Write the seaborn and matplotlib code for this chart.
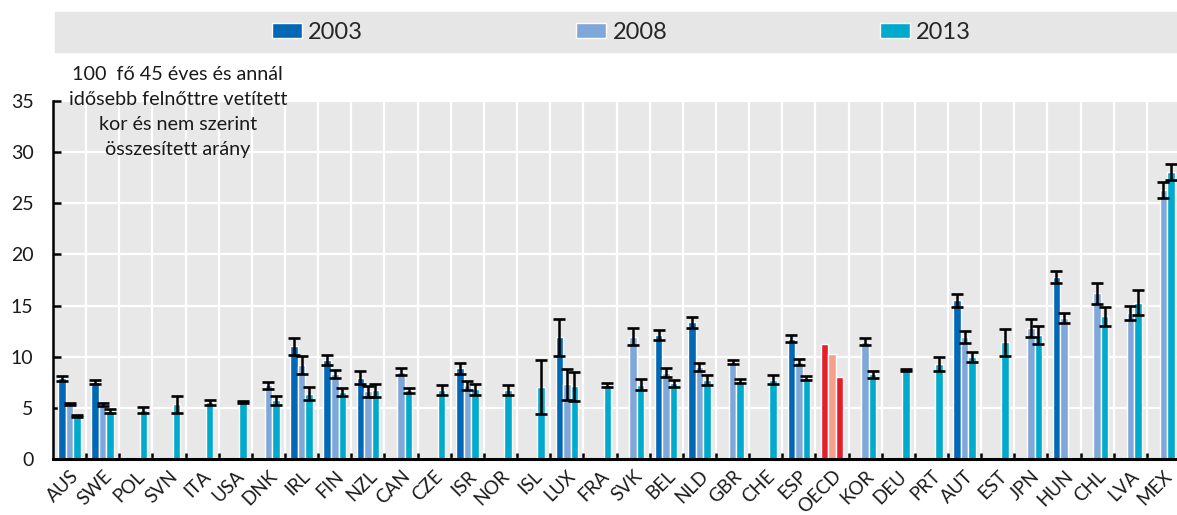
import numpy as np
import pandas as pd
import matplotlib
matplotlib.use("Agg")
import matplotlib.pyplot as plt
import seaborn as sns
from matplotlib.patches import Rectangle
from matplotlib.container import BarContainer

nan = np.nan

countries = ["AUS", "SWE", "POL", "SVN", "ITA", "USA", "DNK", "IRL", "FIN", "NZL",
             "CAN", "CZE", "ISR", "NOR", "ISL", "LUX", "FRA", "SVK", "BEL", "NLD",
             "GBR", "CHE", "ESP", "OECD", "KOR", "DEU", "PRT", "AUT", "EST", "JPN",
             "HUN", "CHL", "LVA", "MEX"]
years = ["2003", "2008", "2013"]

v2003 = [7.9, 7.5, nan, nan, nan, nan, nan, 11.0, 9.7, 7.95,
         nan, nan, 8.85, nan, nan, 11.9, nan, nan, 12.1, 13.35,
         nan, nan, 11.75, 11.2, nan, nan, nan, 15.5, nan, nan,
         17.8, nan, nan, nan]
v2008 = [5.4, 5.3, nan, nan, nan, nan, 7.2, 9.2, 8.3, 6.6,
         8.55, nan, 7.2, nan, nan, 7.3, nan, 11.95, 8.45, 9.0,
         9.5, nan, 9.5, 10.3, 11.45, nan, nan, 11.9, nan, 12.8,
         13.8, 16.2, 14.3, 26.3]
v2013 = [4.2, 4.65, 4.75, 5.35, 5.55, 5.55, 5.75, 6.4, 6.55, 6.7,
         6.7, 6.75, 6.8, 6.75, 7.05, 7.1, 7.2, 7.25, 7.4, 7.7,
         7.6, 7.75, 7.9, 8.0, 8.3, 8.7, 9.3, 10.0, 11.4, 12.1,
         nan, 13.95, 15.3, 28.05]

e2003 = [0.25, 0.2, nan, nan, nan, nan, nan, 0.8, 0.5, 0.65,
         nan, nan, 0.55, nan, nan, 1.8, nan, nan, 0.5, 0.55,
         nan, nan, 0.35, nan, nan, nan, nan, 0.6, nan, nan,
         0.6, nan, nan, nan]
e2008 = [0.1, 0.15, nan, nan, nan, nan, 0.35, 0.9, 0.4, 0.5,
         0.35, nan, 0.45, nan, nan, 1.5, nan, 0.85, 0.4, 0.4,
         0.2, nan, 0.3, nan, 0.35, nan, nan, 0.6, nan, 0.9,
         0.5, 1.0, 0.7, 0.8]
e2013 = [0.1, 0.2, 0.3, 0.85, 0.25, 0.08, 0.45, 0.6, 0.35, 0.6,
         0.2, 0.45, 0.5, 0.45, 2.65, 1.45, 0.2, 0.55, 0.35, 0.5,
         0.2, 0.45, 0.2, nan, 0.35, 0.08, 0.65, 0.5, 1.35, 0.9,
         nan, 0.95, 1.2, 0.75]

colors = ["#0068B4", "#80A7DA", "#00AACC"]
oecd_colors = ["#E3202A", "#F4A08C", "#E3202A"]

note = "100  fő 45 éves és annál\nidősebb felnőttre vetített\nkor és nem szerint\nösszesített arány"

df = pd.DataFrame({
    "country": countries * 3,
    "year": [y for y in years for _ in countries],
    "value": v2003 + v2008 + v2013,
})
errs = [e2003, e2008, e2013]

sns.set_style("white")
plt.rcParams["font.family"] = ["Lato", "DejaVu Sans"]

fig = plt.figure(figsize=(11.77, 5.15), dpi=100)
ax = fig.add_axes([53 / 1177, 56 / 515, 1127 / 1177, 358 / 515])
ax.set_facecolor("#E8E8E8")

sns.barplot(data=df, x="country", y="value", hue="year", order=countries,
            hue_order=years, palette=colors, width=0.68, saturation=1,
            errorbar=None, ax=ax)

# error bars + OECD colours
oecd_i = countries.index("OECD")
bar_conts = [c for c in ax.containers if isinstance(c, BarContainer)]
for i, cont in enumerate(bar_conts):
    for bar in cont:
        h = bar.get_height()
        if np.isnan(h) or h == 0:
            continue
        xc = bar.get_x() + bar.get_width() / 2
        ci = int(round(xc))
        if ci == oecd_i:
            bar.set_facecolor(oecd_colors[i])
            continue
        e = errs[i][ci]
        if not np.isnan(e):
            ax.errorbar(xc, h, yerr=e, fmt="none", ecolor="black",
                        elinewidth=1.8, capsize=4.6, capthick=1.9, zorder=5)

ax.set_xlim(-0.5, len(countries) - 0.5)
ax.set_ylim(0, 35)
ax.set_yticks(range(0, 36, 5))
ax.set_xticks(np.arange(len(countries)) + 0.5, minor=True)
ax.set_xlabel("")
ax.set_ylabel("")
ax.set_xticks(np.arange(len(countries)))
ax.set_xticklabels(countries, rotation=45, ha="right", va="top",
                   rotation_mode="anchor", fontsize=13.5, color="#1a1a1a")
ax.tick_params(axis="x", which="major", length=0, pad=6)
ax.tick_params(axis="x", which="minor", direction="in", length=4, width=1.8,
               color="black", bottom=True)
ax.tick_params(axis="y", direction="in", length=6, width=1.8, color="black",
               labelsize=14, labelcolor="#1a1a1a", pad=14, left=True)
ax.set_axisbelow(True)
ax.grid(which="major", axis="y", color="white", lw=1.6)
ax.grid(which="minor", axis="x", color="white", lw=1.6)
ax.grid(which="major", axis="x", visible=False)
for s in ["top", "right"]:
    ax.spines[s].set_visible(False)
ax.spines["left"].set_linewidth(1.8)
ax.spines["bottom"].set_linewidth(2.2)
ax.spines["left"].set_color("black")
ax.spines["bottom"].set_color("black")

# legend band
handles, labels = ax.get_legend_handles_labels()
ax.get_legend().remove()
fig.patches.append(Rectangle((55 / 1177, 463 / 515), 1122 / 1177, 40 / 515,
                             transform=fig.transFigure, color="#E6E6E6", zorder=0))
fig.legend(handles, labels, loc="center", bbox_to_anchor=(0.528, 0.937), ncol=3,
           frameon=False, fontsize=17, handlelength=1.27, handleheight=0.64,
           handletextpad=0.28, columnspacing=9.0)

fig.text(0.151, 0.872, note, ha="center", va="top", fontsize=14.2,
         linespacing=1.58, color="#1a1a1a")

fig.savefig("out.png", dpi=100)
